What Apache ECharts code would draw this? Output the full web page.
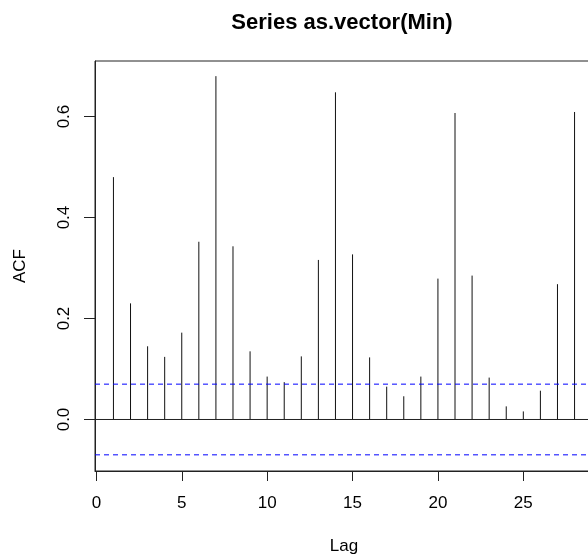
<!DOCTYPE html>
<html>
<head>
<meta charset="utf-8">
<script src="https://cdn.jsdelivr.net/npm/echarts@6/dist/echarts.min.js"></script>
<style>
  html, body { margin: 0; padding: 0; background: #fff; }
  #acfchart { width: 588px; height: 557px; }
</style>
</head>
<body>
<div id="acfchart"></div>
<script>
// lags and acf values
var lags = [1, 2, 3, 4, 5, 6, 7, 8, 9, 10, 11, 12, 13, 14, 15, 16, 17, 18, 19, 20, 21, 22, 23, 24, 25, 26, 27, 28];
var acfValues = [0.480, 0.230, 0.145, 0.124, 0.172, 0.352, 0.680, 0.343, 0.135, 0.085, 0.074, 0.125, 0.316, 0.648,
                 0.327, 0.123, 0.065, 0.046, 0.085, 0.279, 0.607, 0.285, 0.083, 0.026, 0.016, 0.057, 0.268, 0.609];
var ciBound = 0.07;
var xTicks = [0, 5, 10, 15, 20, 25];
var yTicks = [0, 0.2, 0.4, 0.6];
var xMin = -0.08, xMax = 29.08;
var yMin = -0.102, yMax = 0.71;

var font = "'Liberation Sans', Arial, sans-serif";

var initialize = function(){
    var myChart = echarts.init(document.getElementById('acfchart'));

    var stems = [];
    for (var i = 0; i < lags.length; i++) {
        stems.push([lags[i], acfValues[i]]);
    }

    var hline = function(y, color, type){
        return {
            type: 'line',
            data: [[xMin, y], [xMax, y]],
            symbol: 'none',
            silent: true,
            lineStyle: { color: color, type: type, width: 1 },
            z: 3
        };
    };

    var option = {
        animation: false,
        title: {
            text: 'Series as.vector(Min)',
            left: 337,
            top: 7,
            textAlign: 'center',
            textStyle: { fontFamily: font, fontSize: 22, fontWeight: 'bold', color: '#000' }
        },
        grid: {
            left: 95,
            top: 61,
            right: -5,
            bottom: 86,
            containLabel: false,
            outerBoundsMode: 'none',
            show: true,
            borderColor: '#222',
            borderWidth: 1
        },
        xAxis: {
            type: 'value',
            min: xMin,
            max: xMax,
            name: 'Lag',
            nameLocation: 'middle',
            nameGap: 67,
            nameTextStyle: { fontFamily: font, fontSize: 17, color: '#000' },
            axisLine: { show: true, onZero: false, lineStyle: { color: '#222', width: 1 } },
            splitLine: { show: false },
            axisTick: { show: true, inside: false, length: 10, customValues: xTicks, lineStyle: { color: '#222', width: 1 } },
            axisLabel: { customValues: xTicks, margin: 24, fontFamily: font, fontSize: 17, color: '#000' }
        },
        yAxis: {
            type: 'value',
            min: yMin,
            max: yMax,
            name: 'ACF',
            nameLocation: 'middle',
            nameGap: 66,
            nameRotate: 90,
            nameTextStyle: { fontFamily: font, fontSize: 17, color: '#000' },
            axisLine: { show: true, onZero: false, lineStyle: { color: '#222', width: 1 } },
            splitLine: { show: false },
            axisTick: { show: true, inside: false, length: 11, customValues: yTicks, lineStyle: { color: '#222', width: 1 } },
            axisLabel: {
                customValues: yTicks,
                rotate: 90,
                margin: 22,
                fontFamily: font, fontSize: 17, color: '#000',
                formatter: function(v){ return v.toFixed(1); }
            }
        },
        series: [
            {
                type: 'custom',
                data: stems,
                renderItem: function(params, api){
                    var base = api.coord([api.value(0), 0]);
                    var top = api.coord([api.value(0), api.value(1)]);
                    return {
                        type: 'line',
                        shape: { x1: base[0], y1: base[1], x2: top[0], y2: top[1] },
                        style: { stroke: '#111', lineWidth: 1 }
                    };
                }
            },
            hline(0, '#222', 'solid'),
            hline(ciBound, '#0000ff', [5, 4]),
            hline(-ciBound, '#0000ff', [5, 4])
        ]
    };

    myChart.setOption(option);
};

initialize();
</script>
</body>
</html>
